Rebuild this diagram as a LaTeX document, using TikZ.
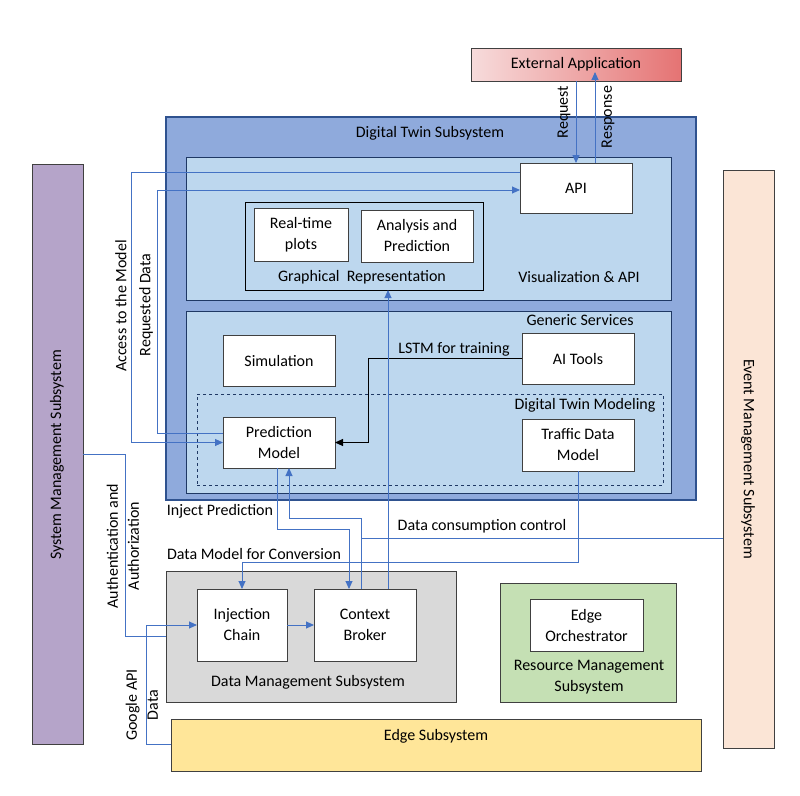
\documentclass[tikz,border=0pt]{standalone}
\usepackage{fontspec}
\setmainfont{Carlito}
\usetikzlibrary{arrows.meta}
\definecolor{dtFill}{HTML}{8FAADC}
\definecolor{dtDraw}{HTML}{2F528F}
\definecolor{ltFill}{HTML}{BDD7EE}
\definecolor{ltDraw}{HTML}{1F3864}
\definecolor{connC}{HTML}{4472C4}
\definecolor{boxDraw}{HTML}{404040}
\definecolor{sysFill}{HTML}{B5A4C9}
\definecolor{evtFill}{HTML}{FBE5D6}
\definecolor{dmFill}{HTML}{D9D9D9}
\definecolor{rmFill}{HTML}{C5E0B4}
\definecolor{edgeFill}{HTML}{FFE699}
\definecolor{extL}{HTML}{F7DCDC}
\definecolor{extR}{HTML}{E57373}
\begin{document}
\begin{tikzpicture}[x=1pt,y=-1pt,
  every node/.style={font=\fontsize{16}{21}\selectfont, inner sep=0pt, outer sep=0pt},
  box/.style={draw=boxDraw, line width=1pt, fill=white, align=center},
  cont/.style={draw=boxDraw, line width=1pt},
  conn/.style={draw=connC, line width=0.9pt},
  arr/.style={conn, -{Triangle[length=8pt,width=7pt]}},
  lbl/.style={align=center, text=black},
]
\useasboundingbox[fill=white] (0,0) rectangle (800,795);

% side subsystems
\node[cont, draw=boxDraw, fill=sysFill, minimum width=51pt, minimum height=580pt] (sys) at (57.5,454) {};
\node[lbl, rotate=90] (syslbl) at (57,455) {System Management Subsystem};
\node[cont, fill=evtFill, minimum width=51pt, minimum height=578pt] (evt) at (748.5,459) {};
\node[lbl, rotate=-90] (evtlbl) at (748,459) {Event Management Subsystem};

% external application
\node[cont, left color=extL, right color=extR, minimum width=210pt, minimum height=33pt] (ext) at (576,64.5) {External Application};

% digital twin subsystem
\node[draw=dtDraw, line width=1.4pt, fill=dtFill, minimum width=530pt, minimum height=383pt] (dt) at (431,308.5) {};
\node[lbl] (dtlbl) at (430,133) {Digital Twin Subsystem};

\node[draw=ltDraw, line width=1pt, fill=ltFill, minimum width=485pt, minimum height=143pt] (vis) at (428.5,228.5) {};
\node[lbl] (vislbl) at (579,277) {Visualization \& API};
\node[box, minimum width=112pt, minimum height=50pt] (api) at (576,188) {API};
\node[draw=black, line width=1pt, fill=ltFill, minimum width=238pt, minimum height=88pt] (graph) at (364,246) {};
\node[lbl] (graphlbl) at (362,277) {Graphical\ \ Representation};
\node[box, minimum width=94pt, minimum height=53pt] (rt) at (301,234.5) {Real-time\\plots};
\node[box, minimum width=112pt, minimum height=52pt] (an) at (417,236) {Analysis and\\Prediction};

\node[draw=ltDraw, line width=1pt, fill=ltFill, minimum width=485pt, minimum height=182pt] (gen) at (428.5,402) {};
\node[lbl] (genlbl) at (580,320) {Generic Services};
\node[box, minimum width=112pt, minimum height=51pt] (sim) at (279,360.5) {Simulation};
\node[box, minimum width=112pt, minimum height=51pt] (ai) at (578,358.5) {AI Tools};
\node[draw=ltDraw, line width=0.8pt, dashed, minimum width=466pt, minimum height=91pt] (dtm) at (430,439.5) {};
\node[lbl] (dtmlbl) at (585,405) {Digital Twin Modeling};
\node[box, minimum width=112pt, minimum height=51pt] (pm) at (279,442.5) {Prediction\\Model};
\node[box, minimum width=112pt, minimum height=52pt] (td) at (578,445) {Traffic Data\\Model};

% data management
\node[cont, fill=dmFill, minimum width=290pt, minimum height=131pt] (dm) at (311,636.5) {};
\node[lbl] (dmlbl) at (308,682) {Data Management Subsystem};
\node[box, minimum width=90pt, minimum height=72pt] (ic) at (242,625) {Injection\\Chain};
\node[box, minimum width=102pt, minimum height=72pt] (cb) at (365,625) {Context\\Broker};

% resource management
\node[cont, fill=rmFill, minimum width=176pt, minimum height=119pt] (rm) at (588,642.5) {};
\node[lbl] (rmlbl) at (589,677) {Resource Management\\Subsystem};
\node[box, minimum width=113pt, minimum height=52pt] (eo) at (586.5,625) {Edge\\Orchestrator};

% edge subsystem
\node[cont, fill=edgeFill, minimum width=530pt, minimum height=52pt] (edge) at (436,745) {};
\node[lbl] (edgelbl) at (436,736) {Edge Subsystem};

% coordinates for routing
\coordinate (accx) at (131,0);
\coordinate (reqx) at (157,0);
\coordinate (lstmx) at (368,0);
\coordinate (ipc) at (349,529);
\coordinate (cpc) at (289,518);
\coordinate (dcc) at (361,538);
\coordinate (dmc) at (242,562);
\coordinate (authx) at (125,0);
\coordinate (gapix) at (146,0);

% connectors
\draw[arr] (ext.south) -- (api.north);
\draw[arr] ([xshift=19pt]api.north) -- ([xshift=19pt,yshift=9pt]ext.south);
\node[lbl, rotate=90] (reqlbl) at (564,112) {Request};
\node[lbl, rotate=90] (reslbl) at (608,117) {Response};

\draw[arr] ([yshift=16pt]api.west) -| (accx |- pm.west) -- (pm.west);
\draw[arr] ([yshift=9.5pt]pm.west) -| (reqx |- 0,190) -- ([yshift=-2pt]api.west);
\node[lbl, rotate=90] (acclbl) at (121,306) {Access to the Model};
\node[lbl, rotate=90] (rqlbl) at (146,305) {Requested Data};

\draw[draw=black, line width=0.9pt, -{Triangle[length=8pt,width=7pt]}] (ai.west) -| (lstmx |- pm.east) -- (pm.east);
\node[lbl] (lstmlbl) at (454,349) {LSTM for training};

\draw[arr] ([xshift=23pt]cb.north) -- ([xshift=24pt]graph.south);

\draw[arr] ([xshift=-2pt]pm.south) |- (ipc) -- ([xshift=-16pt]cb.north);
\node[lbl] (iplbl) at (220,511) {Inject Prediction};
\draw[arr] ([xshift=-4pt]cb.north) |- (cpc) -- ([xshift=10pt]pm.south);
\draw[conn] (evt.west |- dcc) -- (dcc);
\node[lbl] (dcclbl) at (482,526) {Data consumption control};

\draw[arr] (td.south) |- (dmc) -- (ic.north);
\node[lbl] (dmclbl) at (254,554) {Data Model for Conversion};

\draw[arr] (ic.east) -- (cb.west);

\draw[conn] (sys.east) -| (authx |- dm.west) -- (dm.west);
\node[lbl, rotate=90] (authlbl) at (123,546) {Authentication and\\Authorization};

\draw[arr] ([yshift=1pt]edge.west) -| (gapix |- ic.west) -- (ic.west);
\node[lbl, rotate=90] (gapilbl) at (142,705) {Google API\\Data};
\end{tikzpicture}
\end{document}
